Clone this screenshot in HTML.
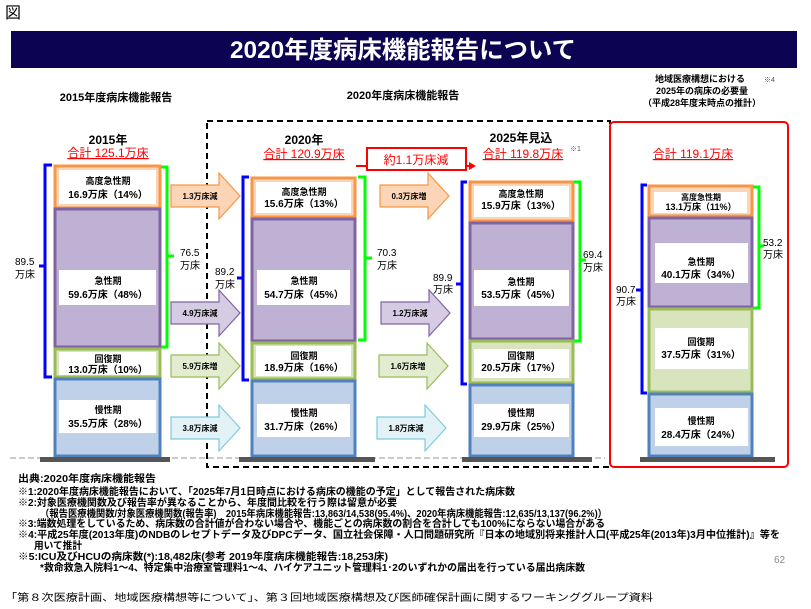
<!DOCTYPE html>
<html><head><meta charset="utf-8"><style>
body{margin:0;width:811px;height:609px;background:#fff;overflow:hidden}
svg{display:block}
text{font-family:"Liberation Sans","Noto Sans CJK JP",sans-serif}
.b{font-weight:bold}
</style></head><body>
<svg width="811" height="609" viewBox="0 0 811 609" xmlns="http://www.w3.org/2000/svg">
<text x="5" y="18" font-size="16">図</text>
<rect x="11" y="31" width="786" height="37" fill="#0c0452"/>
<text x="403" y="58" font-size="24" fill="#fff" text-anchor="middle" class="b" textLength="346" lengthAdjust="spacingAndGlyphs">2020年度病床機能報告について</text>

<text x="116" y="101" font-size="11" text-anchor="middle" class="b">2015年度病床機能報告</text>
<text x="403" y="99" font-size="11" text-anchor="middle" class="b">2020年度病床機能報告</text>
<text x="700" y="82" font-size="9" text-anchor="middle" class="b">地域医療構想における</text>
<text x="764" y="82" font-size="7" fill="#555">※4</text>
<text x="702" y="94" font-size="9" text-anchor="middle" class="b">2025年の病床の必要量</text>
<text x="702" y="106" font-size="9" text-anchor="middle" class="b">（平成28年度末時点の推計）</text>

<line x1="10" y1="458" x2="605" y2="458" stroke="#ccc" stroke-width="2" stroke-dasharray="6,3"/>
<rect x="207" y="121" width="403" height="346" fill="none" stroke="#000" stroke-width="2" stroke-dasharray="6,4"/>
<rect x="610" y="122" width="178" height="345" rx="4" fill="none" stroke="#f00" stroke-width="2"/>

<g class="b" font-size="12" text-anchor="middle">
<text x="108" y="144">2015年</text>
<text x="304" y="144">2020年</text>
<text x="521" y="142">2025年見込</text>
</g>
<g font-size="12" fill="#f00" text-anchor="middle" text-decoration="underline">
<text x="108" y="157">合計 125.1万床</text>
<text x="304" y="158">合計 120.9万床</text>
<text x="523" y="158">合計 119.8万床</text>
<text x="693" y="158">合計 119.1万床</text>
</g>
<text x="570" y="151" font-size="7" fill="#555">※1</text>
<rect x="367" y="148" width="99" height="22" fill="#fff" stroke="#f00" stroke-width="2"/>
<text x="416" y="164" font-size="12" fill="#f00" text-anchor="middle">約1.1万床減</text>
<line x1="356" y1="166" x2="366" y2="166" stroke="#f00" stroke-width="2"/>
<line x1="466" y1="166" x2="474" y2="166" stroke="#f00" stroke-width="2"/>
<polygon points="476,166 469,162 469,170" fill="#f00"/>

<g stroke-width="3">
<rect x="55" y="166" width="105" height="42" fill="#fbd5b5" stroke="#f79646"/>
<rect x="55" y="209" width="105" height="138" fill="#bfb1d3" stroke="#8064a2"/>
<rect x="55" y="349" width="105" height="28" fill="#d7e4bd" stroke="#9bbb59"/>
<rect x="55" y="379" width="105" height="77" fill="#bfd1e8" stroke="#4f81bd"/>
<rect x="252" y="178" width="103" height="39" fill="#fbd5b5" stroke="#f79646"/>
<rect x="252" y="219" width="103" height="122" fill="#bfb1d3" stroke="#8064a2"/>
<rect x="252" y="343" width="103" height="36" fill="#d7e4bd" stroke="#9bbb59"/>
<rect x="252" y="381" width="103" height="75" fill="#bfd1e8" stroke="#4f81bd"/>
<rect x="470" y="182" width="103" height="39" fill="#fbd5b5" stroke="#f79646"/>
<rect x="470" y="223" width="103" height="116" fill="#bfb1d3" stroke="#8064a2"/>
<rect x="470" y="341" width="103" height="42" fill="#d7e4bd" stroke="#9bbb59"/>
<rect x="470" y="385" width="103" height="71" fill="#bfd1e8" stroke="#4f81bd"/>
<rect x="649" y="186" width="103" height="30" fill="#fbd5b5" stroke="#f79646"/>
<rect x="649" y="218" width="103" height="89" fill="#bfb1d3" stroke="#8064a2"/>
<rect x="649" y="309" width="103" height="83" fill="#d7e4bd" stroke="#9bbb59"/>
<rect x="649" y="394" width="103" height="62" fill="#bfd1e8" stroke="#4f81bd"/>
</g>
<g fill="#fff">
<rect x="59" y="170" width="97" height="34"/><rect x="59" y="270" width="97" height="35"/><rect x="59" y="352" width="97" height="23"/><rect x="59" y="400" width="97" height="33"/>
<rect x="256" y="182" width="95" height="31"/><rect x="257" y="270" width="93" height="35"/><rect x="256" y="346" width="95" height="30"/><rect x="257" y="404" width="93" height="33"/>
<rect x="474" y="186" width="95" height="31"/><rect x="474" y="270" width="95" height="36"/><rect x="474" y="349" width="95" height="29"/><rect x="474" y="404" width="95" height="33"/>
<rect x="654" y="192" width="93" height="21"/><rect x="655" y="243" width="93" height="40"/><rect x="655" y="328" width="93" height="41"/><rect x="655" y="408" width="93" height="38"/>
</g>
<g font-size="10" class="b" text-anchor="middle">
<text x="108" y="184" font-size="9">高度急性期</text><text x="108" y="198">16.9万床（14%）</text>
<text x="108" y="284" font-size="9">急性期</text><text x="108" y="298">59.6万床（48%）</text>
<text x="108" y="362" font-size="9">回復期</text><text x="108" y="373">13.0万床（10%）</text>
<text x="108" y="413" font-size="9">慢性期</text><text x="108" y="427">35.5万床（28%）</text>
<text x="304" y="195" font-size="9">高度急性期</text><text x="304" y="207">15.6万床（13%）</text>
<text x="304" y="284" font-size="9">急性期</text><text x="304" y="298">54.7万床（45%）</text>
<text x="304" y="359" font-size="9">回復期</text><text x="304" y="371">18.9万床（16%）</text>
<text x="304" y="416" font-size="9">慢性期</text><text x="304" y="430">31.7万床（26%）</text>
<text x="521" y="197" font-size="9">高度急性期</text><text x="521" y="209">15.9万床（13%）</text>
<text x="521" y="285" font-size="9">急性期</text><text x="521" y="298">53.5万床（45%）</text>
<text x="521" y="359" font-size="9">回復期</text><text x="521" y="371">20.5万床（17%）</text>
<text x="521" y="416" font-size="9">慢性期</text><text x="521" y="430">29.9万床（25%）</text>
<text x="701" y="200" font-size="8">高度急性期</text><text x="701" y="210" font-size="9">13.1万床（11%）</text>
<text x="701" y="265" font-size="9">急性期</text><text x="701" y="278">40.1万床（34%）</text>
<text x="701" y="345" font-size="9">回復期</text><text x="701" y="358">37.5万床（31%）</text>
<text x="701" y="424" font-size="9">慢性期</text><text x="701" y="438">28.4万床（24%）</text>
</g>
<g fill="#555">
<rect x="40" y="457" width="130" height="5"/><rect x="239" y="457" width="136" height="5"/><rect x="462" y="457" width="130" height="5"/><rect x="640" y="457" width="135" height="5"/>
</g>

<g fill="none" stroke-width="3">
<path d="M52,165 H45 V377 H52" stroke="#00f"/><line x1="39" y1="266" x2="45" y2="266" stroke="#00f"/>
<path d="M161,167 H167 V347 H161" stroke="#0f0"/><line x1="167" y1="256" x2="174" y2="256" stroke="#0f0"/>
<path d="M249,177 H243 V380 H249" stroke="#00f"/><line x1="237" y1="278" x2="243" y2="278" stroke="#00f"/>
<path d="M358,177 H365 V340 H358" stroke="#0f0"/><line x1="365" y1="258" x2="372" y2="258" stroke="#0f0"/>
<path d="M467,182 H462 V384 H467" stroke="#00f"/><line x1="456" y1="284" x2="462" y2="284" stroke="#00f"/>
<path d="M574,182 H580 V341 H574" stroke="#0f0"/><line x1="580" y1="260" x2="586" y2="260" stroke="#0f0"/>
<path d="M647,185 H642 V393 H647" stroke="#00f"/><line x1="636" y1="290" x2="642" y2="290" stroke="#00f"/>
<path d="M753,187 H759 V308 H753" stroke="#0f0"/><line x1="759" y1="246" x2="764" y2="246" stroke="#0f0"/>
</g>
<g font-size="10">
<text x="15" y="265">89.5</text><text x="15" y="278">万床</text>
<text x="180" y="256">76.5</text><text x="180" y="269">万床</text>
<text x="215" y="275">89.2</text><text x="215" y="288">万床</text>
<text x="377" y="256">70.3</text><text x="377" y="269">万床</text>
<text x="433" y="281">89.9</text><text x="433" y="293">万床</text>
<text x="583" y="258">69.4</text><text x="583" y="271">万床</text>
<text x="616" y="293">90.7</text><text x="616" y="305">万床</text>
<text x="763" y="246">53.2</text><text x="763" y="258">万床</text>
</g>

<g stroke-width="1.2">
<g transform="translate(171,173)"><polygon points="0,12 48,12 48,0 69,23 48,46 48,34 0,34" fill="#fbd5b5" stroke="#f79646"/></g>
<g transform="translate(171,290)"><polygon points="0,12 48,12 48,0 69,23 48,46 48,34 0,34" fill="#d5cbe2" stroke="#8064a2"/></g>
<g transform="translate(171,343)"><polygon points="0,12 48,12 48,0 69,23 48,46 48,34 0,34" fill="#e2ecd0" stroke="#9bbb59"/></g>
<g transform="translate(171,405)"><polygon points="0,12 48,12 48,0 69,23 48,46 48,34 0,34" fill="#e3f2f7" stroke="#7ecbdb"/></g>
<g transform="translate(380,173)"><polygon points="0,12 48,12 48,0 69,23 48,46 48,34 0,34" fill="#fbd5b5" stroke="#f79646"/></g>
<g transform="translate(381,290)"><polygon points="0,12 48,12 48,0 69,23 48,46 48,34 0,34" fill="#d5cbe2" stroke="#8064a2"/></g>
<g transform="translate(379,343)"><polygon points="0,12 48,12 48,0 69,23 48,46 48,34 0,34" fill="#e2ecd0" stroke="#9bbb59"/></g>
<g transform="translate(377,405)"><polygon points="0,12 48,12 48,0 69,23 48,46 48,34 0,34" fill="#e3f2f7" stroke="#7ecbdb"/></g>
</g>
<g font-size="8" class="b" text-anchor="middle">
<text x="200" y="199">1.3万床減</text><text x="200" y="316">4.9万床減</text><text x="200" y="369">5.9万床増</text><text x="200" y="431">3.8万床減</text>
<text x="409" y="199">0.3万床増</text><text x="410" y="316">1.2万床減</text><text x="408" y="369">1.6万床増</text><text x="406" y="431">1.8万床減</text>
</g>

<g font-size="10" class="b" lengthAdjust="spacingAndGlyphs">
<text x="18" y="482" textLength="138" lengthAdjust="spacingAndGlyphs">出典:2020年度病床機能報告</text>
<text x="18" y="495" textLength="497" lengthAdjust="spacingAndGlyphs">※1:2020年度病床機能報告において、「2025年7月1日時点における病床の機能の予定」として報告された病床数</text>
<text x="18" y="506" textLength="379" lengthAdjust="spacingAndGlyphs">※2:対象医療機関数及び報告率が異なることから、年度間比較を行う際は留意が必要</text>
<text x="40" y="517" textLength="567" lengthAdjust="spacingAndGlyphs">（報告医療機関数/対象医療機関数(報告率)　2015年病床機能報告:13,863/14,538(95.4%)、2020年病床機能報告:12,635/13,137(96.2%)）</text>
<text x="18" y="527" textLength="587" lengthAdjust="spacingAndGlyphs">※3:端数処理をしているため、病床数の合計値が合わない場合や、機能ごとの病床数の割合を合計しても100%にならない場合がある</text>
<text x="18" y="538" textLength="762" lengthAdjust="spacingAndGlyphs">※4:平成25年度(2013年度)のNDBのレセプトデータ及びDPCデータ、国立社会保障・人口問題研究所『日本の地域別将来推計人口(平成25年(2013年)3月中位推計)』等を</text>
<text x="34" y="549" textLength="48" lengthAdjust="spacingAndGlyphs">用いて推計</text>
<text x="18" y="560" textLength="370" lengthAdjust="spacingAndGlyphs">※5:ICU及びHCUの病床数(*):18,482床(参考 2019年度病床機能報告:18,253床)</text>
<text x="40" y="571" textLength="545" lengthAdjust="spacingAndGlyphs">*救命救急入院料1～4、特定集中治療室管理料1～4、ハイケアユニット管理料1･2のいずれかの届出を行っている届出病床数</text>
</g>
<text x="774" y="563" font-size="10" fill="#888">62</text>
<text x="5" y="601" font-size="10" textLength="648" lengthAdjust="spacingAndGlyphs">「第８次医療計画、地域医療構想等について」、第３回地域医療構想及び医師確保計画に関するワーキンググループ資料</text>
</svg>
</body></html>
